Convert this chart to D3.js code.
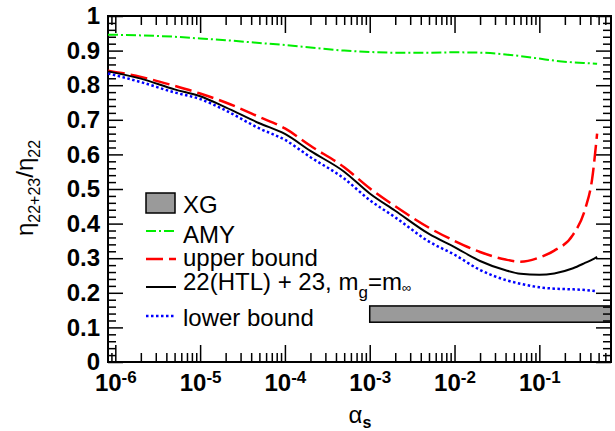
<!DOCTYPE html>
<html>
  <head>
    <meta charset="utf-8">
    <title>eta ratio vs alpha_s</title>
    <script src="https://cdn.jsdelivr.net/npm/d3@7"></script>
    <style>
      body { margin: 0; background: #fff; }
      text { font-family: "Liberation Sans", Arial, Helvetica, sans-serif; }
      .tick line { stroke: #000; stroke-width: 1.5; }
      .tick text { font-size: 24px; font-weight: bold; fill: #000; }
    </style>
  </head>
  <body>
    <svg id="chart" width="615" height="431"></svg>
    <script>
      // data
      alphaS = [8.2e-7, 2e-6, 5e-6, 1e-5, 2e-5, 5e-5, 1e-4, 2e-4, 5e-4, 1e-3, 2e-3, 5e-3,
                1e-2, 2e-2, 4e-2, 6e-2, 0.1, 0.15, 0.25, 0.35, 0.42, 0.48];
      amy = [0.946, 0.944, 0.940, 0.935, 0.930, 0.922, 0.916, 0.909, 0.900, 0.896, 0.894, 0.894,
             0.895, 0.894, 0.889, 0.884, 0.877, 0.871, 0.866, 0.864, 0.863, 0.862];
      upperBound = [0.842, 0.824, 0.798, 0.776, 0.750, 0.708, 0.675, 0.625, 0.563, 0.502, 0.450, 0.388,
                    0.350, 0.318, 0.296, 0.290, 0.302, 0.322, 0.368, 0.445, 0.530, 0.660];
      htl = [0.840, 0.819, 0.788, 0.768, 0.736, 0.690, 0.659, 0.610, 0.550, 0.487, 0.437, 0.370,
             0.332, 0.292, 0.265, 0.255, 0.252, 0.256, 0.271, 0.287, 0.296, 0.304];
      lowerBound = [0.834, 0.809, 0.779, 0.760, 0.727, 0.675, 0.642, 0.592, 0.530, 0.468, 0.418, 0.348,
                    0.310, 0.266, 0.237, 0.226, 0.216, 0.212, 0.210, 0.208, 0.206, 0.204];
      xgBand = { from: 1e-3, low: 0.115, high: 0.162 };
      xMajor = [1e-6, 1e-5, 1e-4, 1e-3, 1e-2, 1e-1];
      xExponents = ["-6", "-5", "-4", "-3", "-2", "-1"];
      yMajor = [0, 0.1, 0.2, 0.3, 0.4, 0.5, 0.6, 0.7, 0.8, 0.9, 1];
      yLabels = ["0", "0.1", "0.2", "0.3", "0.4", "0.5", "0.6", "0.7", "0.8", "0.9", "1"];

      svg = d3.select("#chart");
      // plot frame (window.top is reserved, so own names here)
      frameL = 108; frameR = 611; frameT = 16; frameB = 362;

      x = d3.scaleLog().domain([8.2e-7, 0.7]).range([frameL, frameR]);
      y = d3.scaleLinear().domain([0, 1]).range([frameB, frameT]);

      // minor ticks
      xMinor = [];
      for (e = -7; e <= -1; e++) {
        for (m = 2; m <= 9; m++) {
          v = m * Math.pow(10, e);
          if (v >= x.domain()[0] && v <= x.domain()[1]) xMinor.push(v);
        }
      }
      yMinor = d3.range(0, 51).map(function(i) { return i / 50; })
        .filter(function(v, i) { return i % 5 !== 0; });

      // XG band
      svg.append("rect")
        .attr("x", x(xgBand.from))
        .attr("y", y(xgBand.high))
        .attr("width", frameR - x(xgBand.from))
        .attr("height", y(xgBand.low) - y(xgBand.high))
        .attr("fill", "#9a9a9a")
        .attr("stroke", "#000")
        .attr("stroke-width", 1.5);

      // axes (inward ticks on all four sides)
      function axisGroup(axis, tx, ty) {
        g = svg.append("g").attr("transform", "translate(" + tx + "," + ty + ")").call(axis);
        g.select(".domain").remove();
        return g;
      }
      axisGroup(d3.axisBottom(x).tickValues(xMinor).tickSize(-9).tickFormat(""), 0, frameB);
      axisGroup(d3.axisTop(x).tickValues(xMinor).tickSize(-9).tickFormat(""), 0, frameT);
      axisGroup(d3.axisTop(x).tickValues(xMajor).tickSize(-17).tickFormat(""), 0, frameT);
      xAxis = axisGroup(d3.axisBottom(x).tickValues(xMajor).tickSize(-17).tickPadding(0)
        .tickFormat(function() { return ""; }), 0, frameB);
      xAxis.selectAll(".tick text")
        .attr("y", 29)
        .attr("dy", 0)
        .each(function(d, i) {
          t = d3.select(this);
          t.append("tspan").text("10");
          t.append("tspan").attr("dy", -8).style("font-size", "17px").text(xExponents[i]);
        });

      axisGroup(d3.axisRight(y).tickValues(yMinor).tickSize(-8).tickFormat(""), frameR, 0);
      axisGroup(d3.axisLeft(y).tickValues(yMinor).tickSize(-8).tickFormat(""), frameL, 0);
      axisGroup(d3.axisRight(y).tickValues(yMajor).tickSize(-15).tickFormat(""), frameR, 0);
      axisGroup(d3.axisLeft(y).tickValues(yMajor).tickSize(-15).tickPadding(8)
        .tickFormat(function(d, i) { return yLabels[i]; }), frameL, 0);

      // frame
      svg.append("rect")
        .attr("x", frameL).attr("y", frameT)
        .attr("width", frameR - frameL).attr("height", frameB - frameT)
        .attr("fill", "none").attr("stroke", "#000").attr("stroke-width", 2);

      // curves
      line = d3.line()
        .x(function(d, i) { return x(alphaS[i]); })
        .y(function(d) { return y(d); })
        .curve(d3.curveMonotoneX);
      series = [
        { values: amy, color: "#00ee00", dash: "10,3,2,3", width: 2 },
        { values: upperBound, color: "#ff0000", dash: "17,6", width: 2.5 },
        { values: htl, color: "#000000", dash: null, width: 2 },
        { values: lowerBound, color: "#0000ff", dash: "2.5,2.5", width: 2.5 }
      ];
      series.forEach(function(s) {
        svg.append("path")
          .datum(s.values)
          .attr("d", line)
          .attr("fill", "none")
          .attr("stroke", s.color)
          .attr("stroke-width", s.width)
          .attr("stroke-dasharray", s.dash);
      });

      // legend
      legend = svg.append("g");
      legend.append("rect")
        .attr("x", 146).attr("y", 193).attr("width", 29).attr("height", 20)
        .attr("fill", "#9a9a9a").attr("stroke", "#000").attr("stroke-width", 1.5);
      legendLines = [
        { s: series[0], y: 231 },
        { s: series[1], y: 259 },
        { s: series[2], y: 287 },
        { s: series[3], y: 316 }
      ];
      legendLines.forEach(function(l) {
        legend.append("line")
          .attr("x1", 146).attr("x2", 176).attr("y1", l.y).attr("y2", l.y)
          .attr("stroke", l.s.color).attr("stroke-width", l.s.width)
          .attr("stroke-dasharray", l.s.dash);
      });
      function legendText(ty) {
        return legend.append("text").attr("x", 183).attr("y", ty).style("font-size", "24px");
      }
      legendText(213).text("XG");
      legendText(243).text("AMY");
      legendText(266).text("upper bound");
      t = legendText(290);
      t.append("tspan").text("22(HTL) + 23, m");
      t.append("tspan").attr("dy", 8).style("font-size", "17px").text("g");
      t.append("tspan").attr("dy", -8).text("=m");
      t.append("tspan").attr("dy", 2).style("font-size", "13px").text("∞");
      legendText(326).text("lower bound");

      // axis titles
      xt = svg.append("text")
        .attr("x", 360).attr("y", 423)
        .attr("text-anchor", "middle")
        .style("font-size", "24px");
      xt.append("tspan").text("α");
      xt.append("tspan").attr("dy", 5).style("font-size", "16px").style("font-weight", "bold").text("s");

      yt = svg.append("text")
        .attr("transform", "translate(33,188) rotate(-90)")
        .attr("text-anchor", "middle")
        .style("font-size", "24px");
      yt.append("tspan").text("η");
      yt.append("tspan").attr("dy", 7).style("font-size", "16px").text("22+23");
      yt.append("tspan").attr("dy", -7).text("/η");
      yt.append("tspan").attr("dy", 7).style("font-size", "16px").text("22");
    </script>
  </body>
</html>
